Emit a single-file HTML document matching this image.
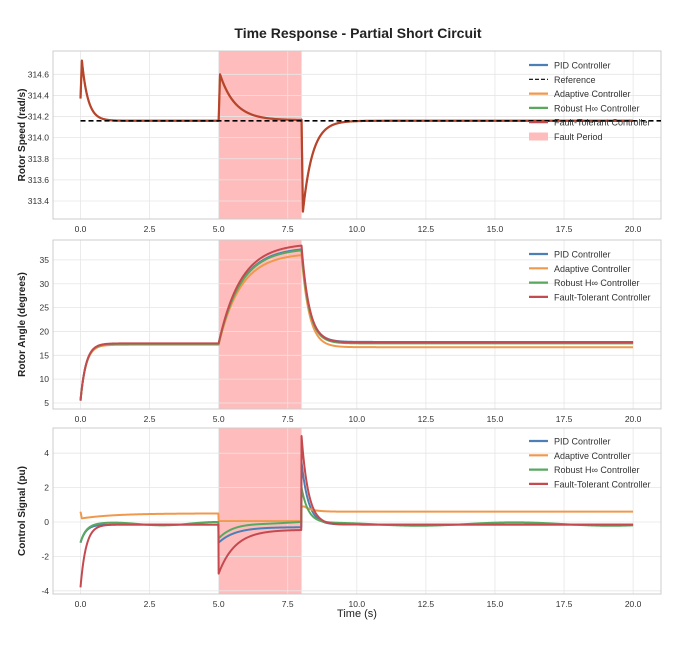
<!DOCTYPE html>
<html><head><meta charset="utf-8"><style>
body{margin:0;background:#fff}
svg{display:block;font-family:"Liberation Sans",sans-serif}
</style></head><body>
<svg id="s" width="683" height="647" viewBox="0 0 683 647" xmlns="http://www.w3.org/2000/svg">
<rect width="683" height="647" fill="#fff"/>
<text x="358" y="38" font-size="14" font-weight="bold" text-anchor="middle" fill="#222">Time Response - Partial Short Circuit</text>
<g id="g"></g>
<text x="357" y="617" font-size="11" text-anchor="middle" fill="#222">Time (s)</text>
</svg>
<script>
const NS="http://www.w3.org/2000/svg",g=document.getElementById('g');
function el(t,a,txt){const e=document.createElementNS(NS,t);for(const k in a)e.setAttribute(k,a[k]);if(txt!==undefined)e.textContent=txt;g.appendChild(e);return e;}
const X=t=>80.5+t*27.63;
const L=53,R=661;
const C={b:"#4c80b4",o:"#f0994c",gr:"#5aa860",r:"#c44a4f",br:"#b5452d"};
function panel(top,bot,yf,ticks,fmt,ylabel){
  el('rect',{x:X(5),y:top,width:X(8)-X(5),height:bot-top,fill:"#ffbcbd"});
  for(let t=0;t<=20;t+=2.5){el('line',{x1:X(t),x2:X(t),y1:top,y2:bot,stroke:"#e6e6e6","stroke-width":0.8});
    el('text',{x:X(t),y:bot+13,"font-size":8.5,"text-anchor":"middle",fill:"#333"},t.toFixed(1));}
  ticks.forEach(v=>{const y=yf(v);el('line',{x1:L,x2:R,y1:y,y2:y,stroke:"#e6e6e6","stroke-width":0.8});
    el('text',{x:L-4,y:y+3,"font-size":8.5,"text-anchor":"end",fill:"#333"},fmt(v));});
  el('rect',{x:L,y:top,width:R-L,height:bot-top,fill:"none",stroke:"#ccc","stroke-width":1});
  const cy=(top+bot)/2;
  el('text',{x:25,y:cy,"font-size":10,"font-weight":"bold","text-anchor":"middle",fill:"#222",transform:`rotate(-90 25 ${cy})`},ylabel);
}
function line(f,yf,col,w,extra){let d="";for(let i=0;i<=2000;i++){const t=i/100;d+=(i?"L":"M")+X(t).toFixed(2)+","+yf(f(t)).toFixed(2);}
  const a={d,fill:"none",stroke:col,"stroke-width":w,"stroke-linejoin":"round"};Object.assign(a,extra||{});el('path',a);}
const E=Math.exp;
// Panel 1
const y1=v=>74.3+(314.6-v)*105.6;
panel(51,219,y1,[313.4,313.6,313.8,314.0,314.2,314.4,314.6],v=>v.toFixed(1),"Rotor Speed (rad/s)");
const sp=k=>t=>{if(t<0.05)return 314.37+(314.73-314.37)*t/0.05;if(t<5)return 314.16+0.57*E(-(t-0.05)/0.22);
 if(t<5.05)return 314.16+0.44*(t-5)/0.05;if(t<8)return 314.165+0.435*E(-(t-5.05)/0.55)*k;
 if(t<8.05)return 314.17-0.87*(t-8)/0.05;return 314.16-0.86*E(-(t-8.05)/0.35);};
line(sp(0.98),y1,C.o,2);line(sp(1),y1,C.br,2.2);
el('line',{x1:X(0),x2:R,y1:y1(314.16),y2:y1(314.16),stroke:"#000","stroke-width":1.6,"stroke-dasharray":"5,3"});
// Panel 2
const y2=v=>403-(v-5)*4.77;
panel(240,409,y2,[5,10,15,20,25,30,35],v=>v,"Rotor Angle (degrees)");
const an=(s,p,a)=>t=>{if(t<5)return 5.5+(s-5.5)*(1-E(-t/0.2));if(t<8)return s+(p-s)*(1-E(-(t-5)/0.8))/(1-E(-3/0.8));
 return a+(p-a)*E(-(t-8)/0.28);};
line(an(17.4,37.2,17.8),y2,C.b,2);line(an(17.2,36,16.7),y2,C.o,2);line(an(17.4,37,17.5),y2,C.gr,2);line(an(17.5,38,17.7),y2,C.r,2);
// Panel 3
const y3=v=>522-v*17.2;
panel(428,594,y3,[-4,-2,0,2,4],v=>v,"Control Signal (pu)");
function cs(a0,s1,f0,s2,p,s3,osc){return t=>{if(t<5)return s1+(a0-s1)*E(-t/0.2)+osc*Math.sin(t*1.6)*(1-E(-t));
 if(t<8)return s2+(f0-s2)*E(-(t-5)/0.6)+osc*0.5*Math.sin(t*1.6);
 return s3+(p-s3)*E(-(t-8)/0.25)+osc*Math.sin(t*0.9)*(1-E(-(t-8)));};}
const org=t=>{if(t<0.05)return 0.6-8*t;if(t<5)return 0.2+0.3*(1-E(-t/1.2));if(t<8)return 0.05;if(t<8.1)return 0.9;return 0.6+0.3*E(-(t-8.1)/0.3);};
line(cs(-1.2,-0.15,-1.2,-0.3,3.5,-0.15,0),y3,C.b,2);
line(org,y3,C.o,2);
line(cs(-1.2,-0.1,-1,0,2,-0.12,0.1),y3,C.gr,2);
line(cs(-3.8,-0.15,-3,-0.45,5,-0.15,0),y3,C.r,2);
// legends
function leg(x,y0,items){items.forEach((it,i)=>{const y=y0+i*14.3;
 if(it[2]=="patch")el('rect',{x:x,y:y-4,width:19,height:8,fill:"#ffbcbd"});
 else el('line',{x1:x,x2:x+19,y1:y,y2:y,stroke:it[1],"stroke-width":it[2]=="dash"?1.2:2.2,"stroke-dasharray":it[2]=="dash"?"4,2":"none"});
 el('text',{x:x+25,y:y+3.5,"font-size":9,fill:"#333"},it[0]);});}
const base=[["PID Controller",C.b],["Adaptive Controller",C.o],["Robust H∞ Controller",C.gr],["Fault-Tolerant Controller",C.r]];
leg(529,65,[base[0],["Reference","#000","dash"],base[1],base[2],base[3],["Fault Period","","patch"]]);
leg(529,254,base);leg(529,441,base);
</script>
</body></html>
